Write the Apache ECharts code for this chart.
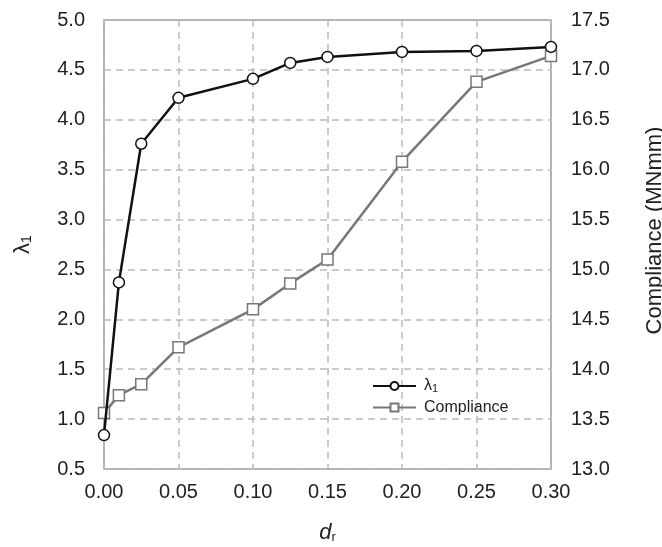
<!DOCTYPE html>
<html>
<head>
<meta charset="utf-8">
<script src="https://cdn.jsdelivr.net/npm/echarts@6/dist/echarts.min.js"></script>
<style>
  html, body { margin: 0; padding: 0; background: #fff; }
  #chart { width: 662px; height: 547px; }
</style>
</head>
<body>
<div id="chart"></div>
<script>
// d_r values along the x axis
const drValues = [0, 0.01, 0.025, 0.05, 0.10, 0.125, 0.15, 0.20, 0.25, 0.30]
// first eigenvalue, left axis
const lambda1 = [0.84, 2.37, 3.76, 4.22, 4.41, 4.57, 4.63, 4.68, 4.69, 4.73]
// compliance in MNmm, right axis
const compliance = [13.56, 13.74, 13.85, 14.22, 14.60, 14.86, 15.10, 16.08, 16.88, 17.14]

const font = 'Liberation Sans, Arial, sans-serif'
const textColor = '#222'
const gridLine = { show: true, lineStyle: { color: '#bbb', width: 1.5, type: [7, 5] } }

const chart = echarts.init(document.getElementById('chart'))

chart.setOption({
  animation: false,
  grid: {
    left: 104, right: 111, top: 20, bottom: 78,
    outerBoundsMode: 'none',
    containLabel: false,
    show: true, borderColor: '#999', borderWidth: 1.5
  },
  legend: {
    left: 367, top: 373,
    orient: 'vertical',
    itemWidth: 43, itemHeight: 10, itemGap: 5,
    textStyle: {
      color: textColor, fontFamily: font, fontSize: 16,
      padding: [0, 0, 0, 3],
      rich: {
        sub: { fontSize: 11, verticalAlign: 'bottom', padding: [6, 0, 0, 0], color: textColor, fontFamily: font }
      }
    },
    formatter: name => name === 'lambda1' ? 'λ{sub|1}' : name,
    data: ['lambda1', 'Compliance']
  },
  xAxis: {
    type: 'value',
    min: 0, max: 0.3, interval: 0.05,
    name: '{d|d}{r|r}',
    nameLocation: 'middle',
    nameGap: 52,
    nameTextStyle: {
      rich: {
        d: { fontSize: 22, fontStyle: 'italic', fontFamily: font, color: textColor },
        r: { fontSize: 13, fontFamily: font, color: textColor, padding: [10, 0, 0, 0] }
      }
    },
    axisLine: { show: false },
    axisTick: { show: false },
    axisLabel: {
      color: textColor, fontFamily: font, fontSize: 20, margin: 13,
      formatter: v => v.toFixed(2)
    },
    splitLine: gridLine
  },
  yAxis: [
    {
      type: 'value',
      min: 0.5, max: 5.0, interval: 0.5,
      name: '{l|λ}{s|1}',
      nameLocation: 'middle',
      nameGap: 70,
      nameRotate: 90,
      nameTextStyle: {
        rich: {
          l: { fontSize: 22, fontFamily: font, color: textColor },
          s: { fontSize: 14, fontFamily: font, color: textColor, padding: [9, 0, 0, 0] }
        }
      },
      axisLine: { show: false },
      axisTick: { show: false },
      axisLabel: {
        color: textColor, fontFamily: font, fontSize: 20, margin: 19,
        formatter: v => v.toFixed(1)
      },
      splitLine: gridLine
    },
    {
      type: 'value',
      position: 'right',
      min: 13.0, max: 17.5, interval: 0.5,
      name: 'Compliance (MNmm)',
      nameLocation: 'middle',
      nameGap: 93,
      nameRotate: 90,
      nameTextStyle: { fontSize: 22, fontFamily: font, color: textColor, padding: [0, 0, 0, 28] },
      axisLine: { show: false },
      axisTick: { show: false },
      axisLabel: {
        color: textColor, fontFamily: font, fontSize: 20, margin: 20,
        formatter: v => v.toFixed(1)
      },
      splitLine: { show: false }
    }
  ],
  series: [
    {
      name: 'Compliance',
      type: 'line',
      yAxisIndex: 1,
      data: drValues.map((x, i) => [x, compliance[i]]),
      symbol: 'rect',
      symbolSize: 11,
      clip: false,
      lineStyle: { color: '#777', width: 2.5 },
      itemStyle: { color: '#fff', borderColor: '#777', borderWidth: 1.5 },
      z: 2
    },
    {
      name: 'lambda1',
      type: 'line',
      yAxisIndex: 0,
      data: drValues.map((x, i) => [x, lambda1[i]]),
      symbol: 'circle',
      symbolSize: 11,
      clip: false,
      lineStyle: { color: '#111', width: 2.5 },
      itemStyle: { color: '#fff', borderColor: '#111', borderWidth: 1.5 },
      z: 3
    }
  ]
})
</script>
</body>
</html>
